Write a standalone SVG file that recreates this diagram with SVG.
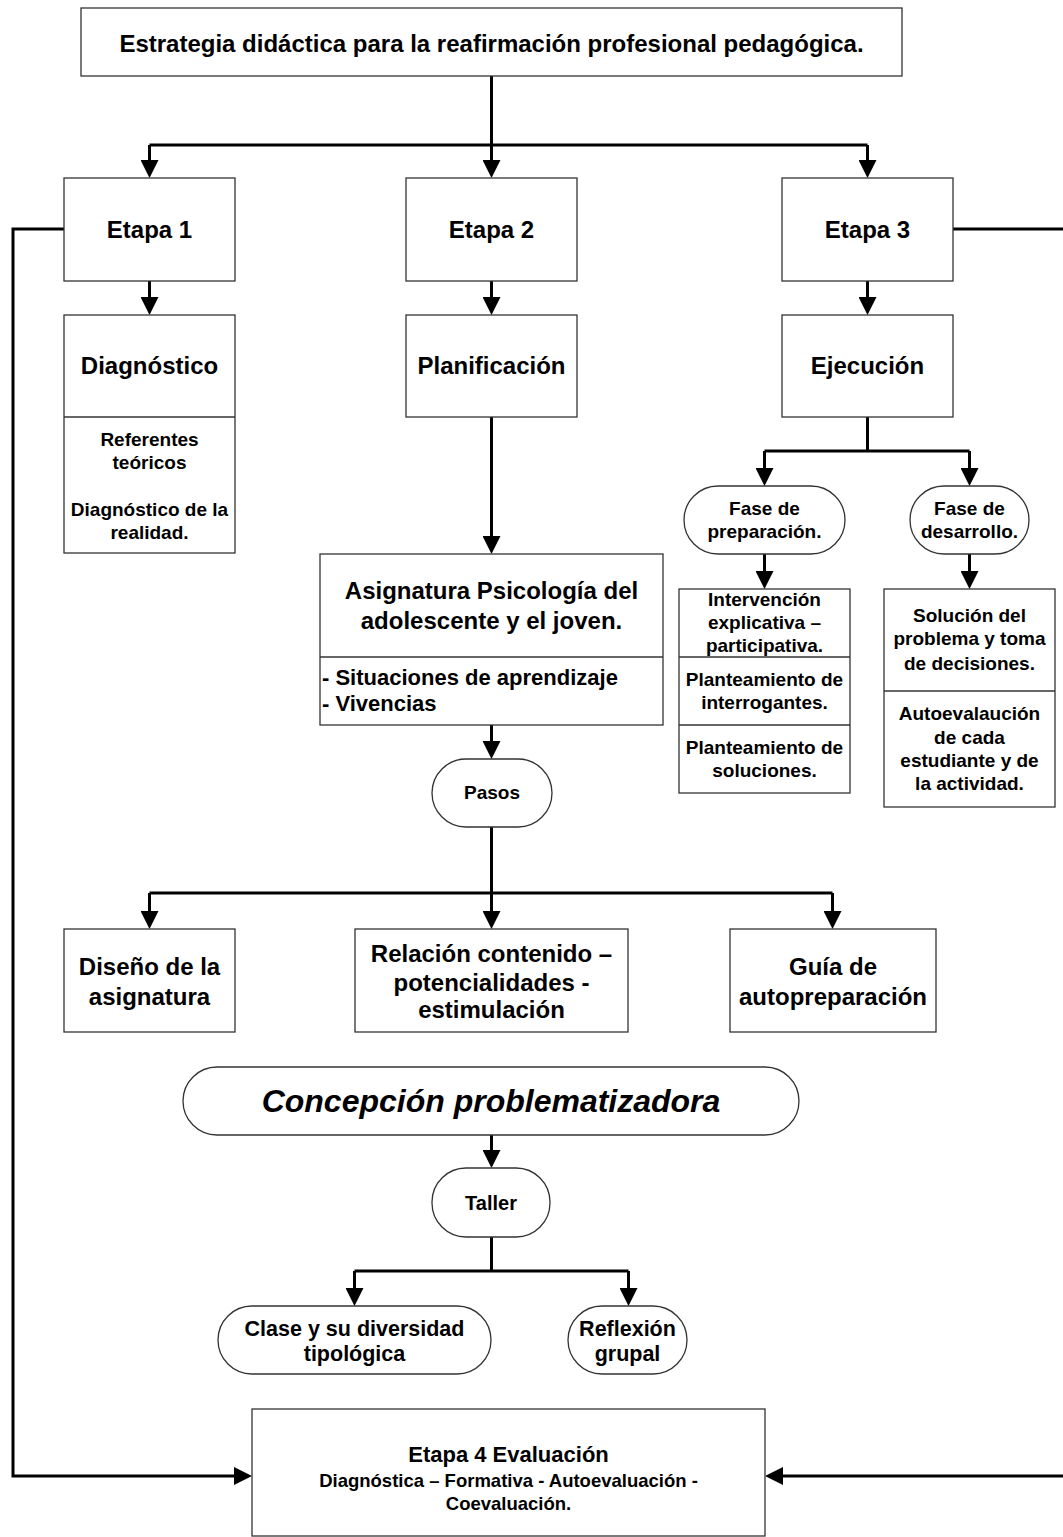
<svg xmlns="http://www.w3.org/2000/svg" width="1063" height="1537" viewBox="0 0 1063 1537">
<style>
.box{fill:#fff;stroke:#333;stroke-width:1.3}
.div{stroke:#333;stroke-width:1.3;fill:none}
.t{font-family:"Liberation Sans",Arial,sans-serif;font-weight:bold;fill:#000;text-anchor:middle}
.c{fill:none;stroke:#000;stroke-width:3}
</style>
<defs>
<marker id="ah" markerUnits="userSpaceOnUse" markerWidth="18" markerHeight="18" refX="10" refY="9" orient="auto" viewBox="0 0 18 18">
<path d="M0,0 L18,9 L0,18 z" fill="#000"/>
</marker>
</defs>
<rect width="1063" height="1537" fill="#fff"/>

<g id="connectors">
<path class="c" d="M491.5,76 V145"/>
<path class="c" d="M149.5,145 H867.5"/>
<path class="c" d="M149.5,145 V170" marker-end="url(#ah)"/>
<path class="c" d="M491.5,145 V170" marker-end="url(#ah)"/>
<path class="c" d="M867.5,145 V170" marker-end="url(#ah)"/>
<path class="c" d="M149.5,281 V307" marker-end="url(#ah)"/>
<path class="c" d="M491.5,281 V307" marker-end="url(#ah)"/>
<path class="c" d="M867.5,281 V307" marker-end="url(#ah)"/>
<path class="c" d="M491.5,417 V546" marker-end="url(#ah)"/>
<path class="c" d="M867.5,417 V451"/>
<path class="c" d="M764.5,451 H969.5"/>
<path class="c" d="M764.5,451 V478" marker-end="url(#ah)"/>
<path class="c" d="M969.5,451 V478" marker-end="url(#ah)"/>
<path class="c" d="M764.5,554 V581" marker-end="url(#ah)"/>
<path class="c" d="M969.5,554 V581" marker-end="url(#ah)"/>
<path class="c" d="M491.5,725 V751" marker-end="url(#ah)"/>
<path class="c" d="M491.5,827 V893"/>
<path class="c" d="M149.5,893 H832.5"/>
<path class="c" d="M149.5,893 V921" marker-end="url(#ah)"/>
<path class="c" d="M491.5,893 V921" marker-end="url(#ah)"/>
<path class="c" d="M832.5,893 V921" marker-end="url(#ah)"/>
<path class="c" d="M491.5,1135 V1160" marker-end="url(#ah)"/>
<path class="c" d="M491.5,1237 V1271"/>
<path class="c" d="M354.5,1271 H628.5"/>
<path class="c" d="M354.5,1271 V1298" marker-end="url(#ah)"/>
<path class="c" d="M628.5,1271 V1298" marker-end="url(#ah)"/>
<path class="c" d="M64,229 H13 V1476 H244" marker-end="url(#ah)"/>
<path class="c" d="M953,229 H1068 V1476 H773" marker-end="url(#ah)"/>
</g>

<g id="title">
<rect class="box" x="81" y="8" width="821" height="68"/>
<text class="t" x="491.5" y="52" font-size="24">Estrategia didáctica para la reafirmación profesional pedagógica.</text>
</g>

<g id="etapa1">
<rect class="box" x="64" y="178" width="171" height="103"/>
<text class="t" x="149.5" y="237.5" font-size="24">Etapa 1</text>
</g>
<g id="etapa2">
<rect class="box" x="406" y="178" width="171" height="103"/>
<text class="t" x="491.5" y="237.5" font-size="24">Etapa 2</text>
</g>
<g id="etapa3">
<rect class="box" x="782" y="178" width="171" height="103"/>
<text class="t" x="867.5" y="237.5" font-size="24">Etapa 3</text>
</g>

<g id="diagnostico">
<rect class="box" x="64" y="315" width="171" height="238"/>
<path class="div" d="M64,417 H235"/>
<text class="t" x="149.5" y="373.5" font-size="24">Diagnóstico</text>
<text class="t" x="149.5" y="446" font-size="19">Referentes</text>
<text class="t" x="149.5" y="469" font-size="19">teóricos</text>
<text class="t" x="149.5" y="516" font-size="19">Diagnóstico de la</text>
<text class="t" x="149.5" y="539" font-size="19">realidad.</text>
</g>

<g id="planificacion">
<rect class="box" x="406" y="315" width="171" height="102"/>
<text class="t" x="491.5" y="373.5" font-size="24">Planificación</text>
</g>

<g id="ejecucion">
<rect class="box" x="782" y="315" width="171" height="102"/>
<text class="t" x="867.5" y="373.5" font-size="24">Ejecución</text>
</g>

<g id="fase-preparacion">
<rect class="box" x="684" y="486" width="161" height="68" rx="34" ry="34"/>
<text class="t" x="764.5" y="515" font-size="19">Fase de</text>
<text class="t" x="764.5" y="538" font-size="19">preparación.</text>
</g>

<g id="fase-desarrollo">
<rect class="box" x="910" y="486" width="119" height="68" rx="34" ry="34"/>
<text class="t" x="969.5" y="515" font-size="19">Fase de</text>
<text class="t" x="969.5" y="538" font-size="19">desarrollo.</text>
</g>

<g id="intervencion">
<rect class="box" x="679" y="589" width="171" height="204"/>
<path class="div" d="M679,657 H850 M679,725 H850"/>
<text class="t" x="764.5" y="606" font-size="19">Intervención</text>
<text class="t" x="764.5" y="629" font-size="19">explicativa –</text>
<text class="t" x="764.5" y="652" font-size="19">participativa.</text>
<text class="t" x="764.5" y="686" font-size="19">Planteamiento de</text>
<text class="t" x="764.5" y="709" font-size="19">interrogantes.</text>
<text class="t" x="764.5" y="754" font-size="19">Planteamiento de</text>
<text class="t" x="764.5" y="777" font-size="19">soluciones.</text>
</g>

<g id="solucion">
<rect class="box" x="884" y="589" width="171" height="218"/>
<path class="div" d="M884,691 H1055"/>
<text class="t" x="969.5" y="622" font-size="19">Solución del</text>
<text class="t" x="969.5" y="645" font-size="19">problema y toma</text>
<text class="t" x="969.5" y="670" font-size="19">de decisiones.</text>
<text class="t" x="969.5" y="720" font-size="19">Autoevalaución</text>
<text class="t" x="969.5" y="744" font-size="19">de cada</text>
<text class="t" x="969.5" y="767" font-size="19">estudiante y de</text>
<text class="t" x="969.5" y="790" font-size="19">la actividad.</text>
</g>

<g id="asignatura">
<rect class="box" x="320" y="554" width="343" height="171"/>
<path class="div" d="M320,657 H663"/>
<text class="t" x="491.5" y="598.5" font-size="24">Asignatura Psicología del</text>
<text class="t" x="491.5" y="628.5" font-size="24">adolescente y el joven.</text>
<text class="t" x="322" y="685" font-size="22" style="text-anchor:start">- Situaciones de aprendizaje</text>
<text class="t" x="322" y="711" font-size="22" style="text-anchor:start">- Vivencias</text>
</g>

<g id="pasos">
<rect class="box" x="432" y="759" width="120" height="68" rx="34" ry="34"/>
<text class="t" x="492" y="799" font-size="19">Pasos</text>
</g>

<g id="diseno">
<rect class="box" x="64" y="929" width="171" height="103"/>
<text class="t" x="149.5" y="974.5" font-size="24">Diseño de la</text>
<text class="t" x="149.5" y="1004.5" font-size="24">asignatura</text>
</g>

<g id="relacion">
<rect class="box" x="355" y="929" width="273" height="103"/>
<text class="t" x="491.5" y="961.5" font-size="24">Relación contenido –</text>
<text class="t" x="491.5" y="990.5" font-size="24">potencialidades -</text>
<text class="t" x="491.5" y="1018" font-size="24">estimulación</text>
</g>

<g id="guia">
<rect class="box" x="730" y="929" width="206" height="103"/>
<text class="t" x="833" y="974.5" font-size="24">Guía de</text>
<text class="t" x="833" y="1004.5" font-size="24">autopreparación</text>
</g>

<g id="concepcion">
<rect class="box" x="183" y="1067" width="616" height="68" rx="34" ry="34"/>
<text class="t" x="491" y="1111.5" font-size="32" font-style="italic">Concepción problematizadora</text>
</g>

<g id="taller">
<rect class="box" x="432" y="1168" width="118" height="69" rx="34" ry="34"/>
<text class="t" x="491" y="1210" font-size="20">Taller</text>
</g>

<g id="clase">
<rect class="box" x="218" y="1306" width="273" height="68" rx="34" ry="34"/>
<text class="t" x="354.5" y="1335.5" font-size="21.5">Clase y su diversidad</text>
<text class="t" x="354.5" y="1360.5" font-size="21.5">tipológica</text>
</g>

<g id="reflexion">
<rect class="box" x="568" y="1306" width="119" height="68" rx="34" ry="34"/>
<text class="t" x="627.5" y="1335.5" font-size="21.5">Reflexión</text>
<text class="t" x="627.5" y="1360.5" font-size="21.5">grupal</text>
</g>

<g id="etapa4">
<rect class="box" x="252" y="1409" width="513" height="127"/>
<text class="t" x="508.5" y="1462" font-size="22">Etapa 4 Evaluación</text>
<text class="t" x="508.5" y="1486.5" font-size="18.5">Diagnóstica – Formativa - Autoevaluación -</text>
<text class="t" x="508.5" y="1509.5" font-size="18.5">Coevaluación.</text>
</g>
</svg>
